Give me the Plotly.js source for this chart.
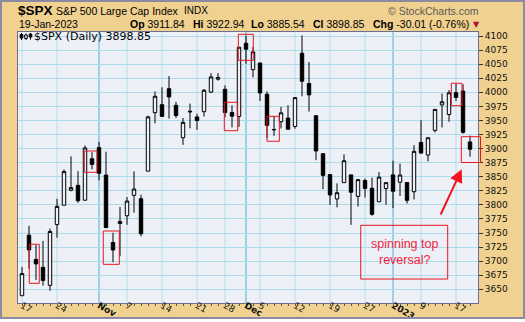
<!DOCTYPE html>
<html><head><meta charset="utf-8">
<script src="https://cdn.plot.ly/plotly-3.0.1.min.js"></script>
<style>
html,body{margin:0;padding:0;background:#fff;}
#wrap{position:relative;width:525px;height:322px;overflow:hidden;background:#fff;}
#chart{position:absolute;left:0;top:0;width:525px;height:319px;}
#frame{position:absolute;left:0;top:0;width:525px;height:319px;box-sizing:border-box;border:2px solid #8A8AA2;pointer-events:none;}
</style></head><body>
<div id="wrap"><div id="chart"></div><div id="frame"></div></div>
<script>
// ---- data ----
const dates = [
 '2022-10-17','2022-10-18','2022-10-19','2022-10-20','2022-10-21','2022-10-24','2022-10-25','2022-10-26','2022-10-27','2022-10-28','2022-10-31',
 '2022-11-01','2022-11-02','2022-11-03','2022-11-04','2022-11-07','2022-11-08','2022-11-09','2022-11-10','2022-11-11','2022-11-14','2022-11-15',
 '2022-11-16','2022-11-17','2022-11-18','2022-11-21','2022-11-22','2022-11-23','2022-11-25','2022-11-28','2022-11-29','2022-11-30',
 '2022-12-01','2022-12-02','2022-12-05','2022-12-06','2022-12-07','2022-12-08','2022-12-09','2022-12-12','2022-12-13','2022-12-14','2022-12-15',
 '2022-12-16','2022-12-19','2022-12-20','2022-12-21','2022-12-22','2022-12-23','2022-12-27','2022-12-28','2022-12-29','2022-12-30',
 '2023-01-03','2023-01-04','2023-01-05','2023-01-06','2023-01-09','2023-01-10','2023-01-11','2023-01-12','2023-01-13','2023-01-17','2023-01-18','2023-01-19'
];
const openP = [3638.65,3746.26,3703.11,3689.05,3657.10,3764.98,3799.44,3825.97,3834.69,3808.26,3881.85,
 3901.79,3852.90,3733.25,3766.98,3780.71,3817.02,3810.94,3859.89,3963.72,3977.97,4006.41,
 3976.82,3919.26,3966.39,3956.23,3965.51,4000.30,4023.34,4005.36,3964.19,3957.18,
 4087.14,4040.17,4052.02,3996.63,3933.28,3947.79,3954.17,3939.29,4069.38,4015.54,3958.37,
 3890.91,3853.79,3810.47,3839.49,3853.26,3815.11,3843.34,3829.56,3805.45,3829.06,
 3853.29,3840.36,3839.74,3823.37,3910.82,3888.57,3932.35,3977.57,3960.60,3999.28,4002.25,3911.84];
const highP = [3689.73,3762.79,3728.58,3736.00,3757.89,3810.74,3862.85,3886.15,3859.95,3905.42,3893.73,
 3911.79,3894.44,3750.59,3796.34,3813.95,3859.40,3818.20,3958.33,4001.48,4008.97,4028.84,
 3983.09,3954.33,3979.89,3962.00,4005.88,4033.78,4034.02,4012.27,3976.77,4080.11,
 4100.51,4080.48,4052.45,4001.51,3957.57,3974.19,3977.02,3990.71,4100.96,4053.76,3959.14,
 3890.91,3854.86,3838.24,3889.82,3853.26,3845.80,3846.65,3848.32,3858.19,3839.85,
 3878.46,3873.16,3839.74,3906.19,3950.57,3919.83,3970.07,3997.76,4003.95,4015.39,4014.16,3922.94];
const lowP = [3638.65,3686.53,3666.51,3656.44,3647.42,3741.65,3799.44,3824.07,3803.79,3808.26,3863.18,
 3843.80,3758.68,3698.15,3708.84,3764.70,3786.28,3744.22,3859.89,3944.82,3956.40,3953.17,
 3954.34,3906.54,3935.98,3933.34,3956.88,3998.66,4020.76,3955.77,3937.65,3938.58,
 4050.87,4026.63,3984.49,3918.39,3922.68,3935.83,3933.69,3935.30,3993.03,3965.65,3879.45,
 3827.91,3800.04,3795.62,3839.49,3764.49,3797.01,3813.22,3780.78,3805.45,3800.34,
 3794.33,3815.77,3802.42,3809.56,3890.42,3877.29,3928.54,3937.56,3947.67,3984.57,3926.59,3885.54];
const closeP = [3677.95,3719.98,3695.16,3665.78,3752.75,3797.34,3859.11,3830.60,3807.30,3901.06,3871.98,
 3856.10,3759.69,3719.89,3770.55,3806.80,3828.11,3748.57,3956.37,3992.93,3957.25,3991.73,
 3958.79,3946.56,3965.34,3949.94,4003.58,4027.26,4026.12,3963.94,3957.63,4080.11,
 4076.57,4071.70,3998.84,3941.26,3933.92,3963.51,3934.38,3990.56,4019.65,3995.32,3895.75,
 3852.36,3817.66,3821.62,3878.44,3822.39,3844.82,3829.25,3783.22,3849.28,3839.50,
 3824.14,3852.97,3808.10,3895.08,3892.09,3919.25,3969.61,3983.17,3999.09,3990.97,3928.86,3898.85];
const tickDates  = ['2022-10-17','2022-10-24','2022-11-01','2022-11-07','2022-11-14','2022-11-21','2022-11-28','2022-12-01','2022-12-05','2022-12-12','2022-12-19','2022-12-27','2023-01-03','2023-01-09','2023-01-17'];
const tickLabels = ['17','24','<b>Nov</b>','7','14','21','28','<b>Dec</b>','5','12','19','27','<b>2023</b>','9','17'];
const monthDates = ['2022-11-01','2022-12-01','2023-01-03'];

// ---- geometry helpers (pixels -> paper) ----
const W=525,H=319,ML=18,MR=47,MT=32,MB=16;
const PW=W-ML-MR, PH=H-MT-MB;
const px=x=>(x-ML)/PW, py=y=>(H-MB-y)/PH;
const idx=d=>dates.indexOf(d);

const RED='#E8141E';
const trace={
  type:'candlestick', x:dates, open:openP, high:highP, low:lowP, close:closeP,
  increasing:{line:{color:'#000',width:1},fillcolor:'#EEF0F8'},
  decreasing:{line:{color:'#000',width:1},fillcolor:'#000'},
  whiskerwidth:0, hoverinfo:'skip', showlegend:false
};

const shapes=[];
tickDates.forEach(d=>{
  const m=monthDates.includes(d);
  shapes.push({type:'line',xref:'x',yref:'paper',x0:idx(d),x1:idx(d),y0:0,y1:1,layer:'below',
    line:{color:m?'#86C8E4':'#B4DEEA',width:m?1.6:1}});
});
// red boxes around candles (hand-drawn in reference; extents read in index/price units)
const boxX=[[1.04,2.47],[8.9,10.71],[11.61,13.9],[28.9,30.81],[30.9,33.04],[35.0,36.76],[61.33,62.86]];
const boxY=[[3660.7,3730],[3857.9,3895.7],[3694.4,3753.6],[3931.8,3982.2],[4056.8,4103],[3913,3957.3],[3976.2,4016]];
boxX.forEach((b,i)=>shapes.push({type:'rect',xref:'x',yref:'y',x0:b[0],x1:b[1],y0:boxY[i][0],y1:boxY[i][1],
  line:{color:RED,width:1},fillcolor:'rgba(0,0,0,0)'}));
// last box overlaps right frame edge
shapes.push({type:'rect',xref:'paper',yref:'paper',x0:px(461.3),x1:px(480.5),y0:py(162.5),y1:py(136.7),
  line:{color:RED,width:1},fillcolor:'rgba(0,0,0,0)'});
// comment box
shapes.push({type:'rect',xref:'x',yref:'y',x0:48.39,x1:60.81,y0:3668.3,y1:3763.7,line:{color:RED,width:1},fillcolor:'rgba(0,0,0,0)'});
// small candle icon
const icon=[[21.5,33,40,34.5,38,'#000'],[26,33.5,40,35,38.5,'#EEF0F8'],[30.5,33,39.5,34,37,'#000']];
icon.forEach(c=>{
  shapes.push({type:'line',xref:'paper',yref:'paper',x0:px(c[0]),x1:px(c[0]),y0:py(c[1]),y1:py(c[2]),line:{color:'#000',width:1}});
  shapes.push({type:'rect',xref:'paper',yref:'paper',x0:px(c[0]-1.3),x1:px(c[0]+1.3),y0:py(c[3]),y1:py(c[4]),line:{color:'#000',width:1},fillcolor:c[5]});
});

const AR='Liberation Sans, Arial, sans-serif';
const DV='DejaVu Sans, Verdana, sans-serif';
function ann(text,x,y,size,opt={}){
  return Object.assign({text,xref:'paper',yref:'paper',x:px(x),y:py(y),xanchor:'left',yanchor:'middle',
    showarrow:false,borderpad:0,font:{family:AR,size,color:'#000'}},opt);
}
const annotations=[
  ann('<b>$SPX</b>',17,11,13.5),
  ann('S&P 500 Large Cap Index',54.5,10.5,10.5),
  ann('INDX',183,11,10),
  ann('© StockCharts.com',480,11,10.5,{xanchor:'right',font:{family:AR,size:10.5,color:'#5A5A5A'}}),
  ann('19-Jan-2023',17.5,23.5,10.5),
  ann('<b>Op</b> 3911.84',128.6,23.5,10.5),
  ann('<b>Hi</b> 3922.94',191.6,23.5,10.5),
  ann('<b>Lo</b> 3885.54',249.8,23.5,10.5),
  ann('<b>Cl</b> 3898.85',312,23.5,10.5),
  ann('<b>Chg</b> -30.01 (-0.76%)',372.2,23.5,10.5),
  ann('▼',472,24.5,8,{font:{family:DV,size:8,color:'#B0102E'}}),
  ann('$SPX (Daily) 3898.85',32.5,37,11,{font:{family:DV,size:11,color:'#000'}}),
  {text:'spinning top<br>reversal?',xref:'x',yref:'y',x:54.6,y:3716,xanchor:'center',yanchor:'middle',showarrow:false,
   font:{family:AR,size:12.5,color:'#F0243C'}},
  {text:'',xref:'x',yref:'y',axref:'x',ayref:'y',x:62.81,y:3863.2,ax:59.71,ay:3780.2,showarrow:true,
   arrowhead:2,arrowsize:1.3,arrowwidth:2,arrowcolor:'#F0141E',standoff:0,startstandoff:0}
];

const layout={
  width:W,height:H,margin:{l:ML,r:MR,t:MT,b:MB,pad:0},
  paper_bgcolor:'#F0D190',plot_bgcolor:'#EEF0F8',showlegend:false,
  xaxis:{type:'category',categoryorder:'array',categoryarray:dates,range:[-0.571,65.14],
    rangeslider:{visible:false},showgrid:false,zeroline:false,
    tickmode:'array',tickvals:dates,ticktext:dates.map(d=>{const k=tickDates.indexOf(d);return k<0?'':tickLabels[k];}),
    ticks:'outside',ticklen:2,tickcolor:'#555',tickwidth:1,ticklabelstandoff:-9,
    tickfont:{family:DV,size:9,color:'#111'},
    showline:true,mirror:true,linecolor:'#6E6E8E',linewidth:1,fixedrange:true},
  yaxis:{side:'right',range:[3625.7,4107.1],tickmode:'linear',tick0:3650,dtick:25,
    showgrid:true,gridcolor:'#ABDCE8',gridwidth:1,zeroline:false,
    ticks:'outside',ticklen:4,tickcolor:'#333',tickfont:{family:DV,size:9,color:'#111'},
    showline:true,mirror:true,linecolor:'#6E6E8E',linewidth:1,fixedrange:true},
  shapes,annotations
};
Plotly.newPlot('chart',[trace],layout,{staticPlot:true,displayModeBar:false});
</script></body></html>
